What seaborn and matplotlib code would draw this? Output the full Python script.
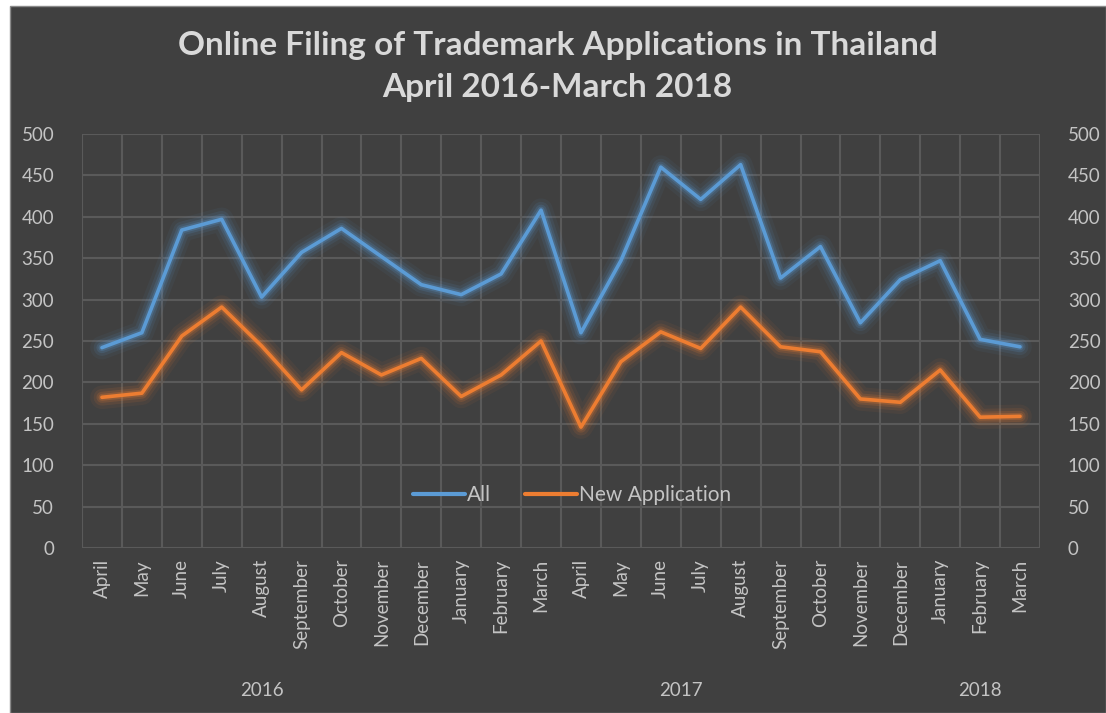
import numpy as np
import pandas as pd
import matplotlib
matplotlib.use("Agg")
import matplotlib.pyplot as plt
import matplotlib.patheffects as pe
from matplotlib.patches import Rectangle
from matplotlib.transforms import blended_transform_factory
from matplotlib.lines import Line2D
import seaborn as sns

months = ["April", "May", "June", "July", "August", "September", "October",
          "November", "December", "January", "February", "March",
          "April", "May", "June", "July", "August", "September", "October",
          "November", "December", "January", "February", "March"]
all_apps = [242, 260, 384, 397, 303, 357, 386, 352, 318, 306, 331, 408,
            260, 347, 460, 421, 463, 326, 364, 272, 324, 347, 252, 243]
new_apps = [182, 187, 256, 291, 244, 191, 236, 209, 229, 183, 209, 250,
            146, 225, 261, 241, 291, 243, 237, 180, 176, 215, 158, 159]
years = ["2016", "2017", "2018"]
year_centers = [4, 14.5, 22]
series_names = ["All", "New Application"]
y_ticks = [0, 50, 100, 150, 200, 250, 300, 350, 400, 450, 500]

idx = np.arange(len(months))
df = pd.DataFrame({
    "idx": np.concatenate([idx, idx]),
    "value": all_apps + new_apps,
    "series": [series_names[0]] * len(idx) + [series_names[1]] * len(idx),
})

BG = "#404040"
GRID = "#5a5a5a"
TXT = "#c4c4c4"
colors = {"All": "#5B9BD5", "New Application": "#ED7D31"}
FONT = "Lato"

sns.set_style("white")
plt.rcParams["font.family"] = [FONT, "DejaVu Sans"]

fig = plt.figure(figsize=(11.06, 7.13), dpi=100, facecolor="white")
bg = Rectangle((10 / 1106, 0), 1 - 10 / 1106, 1 - 6 / 713,
               transform=fig.transFigure, facecolor=BG,
               edgecolor="#8a8a8a", linewidth=1, zorder=-10)
fig.patches.append(bg)

ax = fig.add_axes([82 / 1106, 1 - 548 / 713, (1040 - 82) / 1106, (548 - 134) / 713])
ax.set_facecolor("none")
ax.set_zorder(2)

sns.lineplot(data=df, x="idx", y="value", hue="series", palette=colors,
             linewidth=2.6, ax=ax, legend=False, zorder=3)

for line in ax.get_lines():
    c = line.get_color()
    line.set_path_effects([
        pe.Stroke(linewidth=17, foreground=c, alpha=0.06),
        pe.Stroke(linewidth=12, foreground=c, alpha=0.10),
        pe.Stroke(linewidth=8, foreground=c, alpha=0.16),
        pe.Stroke(linewidth=5, foreground=c, alpha=0.25),
        pe.Normal(),
    ])

ax.set_xlim(-0.5, len(months) - 0.5)
ax.set_ylim(0, 500)
ax.set_yticks(y_ticks)
ax.set_xticks(idx)
ax.set_xticks(np.arange(-0.5, len(months), 1), minor=True)
ax.set_xticklabels(months, rotation=90, ha="center", va="top")
ax.grid(False)
ax.yaxis.grid(True, color=GRID, linewidth=1.5, zorder=0)
ax.xaxis.grid(True, which="minor", color=GRID, linewidth=1.5, zorder=0)
ax.set_axisbelow(True)
for s in ax.spines.values():
    s.set_visible(False)
ax.tick_params(axis="both", which="both", length=0, colors=TXT, labelsize=13.5)
ax.tick_params(axis="x", pad=8)
ax.tick_params(axis="y", pad=20)
ax.set_xlabel("")
ax.set_ylabel("")

ax2 = ax.twinx()
ax2.set_ylim(0, 500)
ax2.set_yticks(y_ticks)
for s in ax2.spines.values():
    s.set_visible(False)
ax2.tick_params(axis="y", length=0, colors=TXT, labelsize=13.5, pad=20)
ax2.grid(False)

trans = blended_transform_factory(ax.transData, fig.transFigure)
for yl, xc in zip(years, year_centers):
    ax.text(xc, 1 - 690 / 713, yl, transform=trans, ha="center", va="center",
            color=TXT, fontsize=13.5)

fig.text(0.504, 1 - 45 / 713, "Online Filing of Trademark Applications in Thailand",
         ha="center", va="center", color="#d9d9d9", fontsize=24, fontweight="bold")
fig.text(0.504, 1 - 87 / 713, "April 2016-March 2018",
         ha="center", va="center", color="#d9d9d9", fontsize=24, fontweight="bold")

handles = [Line2D([], [], color=colors[n], linewidth=3) for n in series_names]
leg = fig.legend(handles, series_names, loc="center", bbox_to_anchor=(572 / 1106, 1 - 495 / 713),
                 ncol=2, frameon=False, fontsize=15, handlelength=2.5, handletextpad=0.1,
                 columnspacing=1.6)
for t in leg.get_texts():
    t.set_color(TXT)

fig.savefig("out.png", dpi=100, facecolor=fig.get_facecolor())
